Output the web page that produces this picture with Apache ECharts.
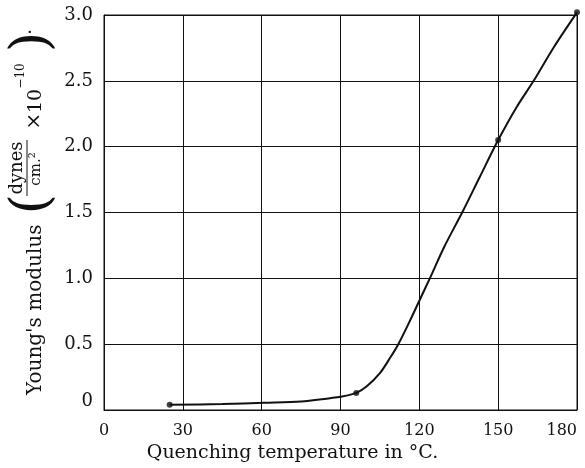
<!DOCTYPE html>
<html>
<head>
<meta charset="utf-8">
<script src="https://cdn.jsdelivr.net/npm/echarts@6/dist/echarts.min.js"></script>
<style>
  html, body { margin: 0; padding: 0; background: #fff; }
  #chart { width: 585px; height: 468px; }
</style>
</head>
<body>
<div id="chart"></div>
<script>
  // measured points (dots)
  var measuredTemp = [25, 96, 150, 180];
  var measuredModulus = [0.04, 0.13, 2.05, 3.02];

  // points
  var curveTemp = [25, 45, 61, 75, 86, 90, 96, 100, 105, 109, 112, 116, 120, 124, 129.5, 136.3, 143, 150, 157, 163.5, 171, 180];
  var curveModulus = [0.04, 0.045, 0.055, 0.065, 0.09, 0.1, 0.13, 0.18, 0.28, 0.40, 0.5, 0.66, 0.83, 1.0, 1.24, 1.5, 1.77, 2.05, 2.3, 2.5, 2.75, 3.02];

  var xTicks = [0, 30, 60, 90, 120, 150, 180];
  var yTicks = [0, 0.5, 1.0, 1.5, 2.0, 2.5, 3.0];

  var font = 'DejaVu Serif';
  var ink = '#111';

  var chart = echarts.init(document.getElementById('chart'));

  var pair = function (xs, ys) {
    var res = [];
    for (var i = 0; i < xs.length; i++) res.push([xs[i], ys[i]]);
    return res;
  };

  // y axis title, laid out in its own (rotated) frame
  var txt = function (x, y, s, size, va) {
    return { type: 'text', x: x, y: y, style: { text: s, font: size + 'px ' + font, fill: ink, align: 'center', verticalAlign: va || 'middle' } };
  };

  var option = {
    backgroundColor: '#fff',
    animation: false,
    grid: {
      left: 104, right: 8, top: 15, bottom: 58,
      show: true, borderColor: ink, borderWidth: 1
    },
    xAxis: {
      type: 'value',
      min: 0, max: 180, interval: 30,
      axisLine: { show: true, lineStyle: { color: ink, width: 1 } },
      axisTick: { show: false },
      splitLine: { show: true, lineStyle: { color: ink, width: 1 } },
      axisLabel: {
        margin: 13,
        color: ink, fontFamily: font, fontSize: 16,
        alignMaxLabel: 'right',
        formatter: function (v) { return xTicks.indexOf(v) >= 0 ? String(v) : ''; }
      },
      name: 'Quenching temperature in °C.',
      nameLocation: 'middle',
      nameGap: 30,
      nameTextStyle: { color: ink, fontFamily: font, fontSize: 19, padding: [0, 96, 0, 0] }
    },
    yAxis: {
      type: 'value',
      min: 0, max: 3, interval: 0.5,
      axisLine: { show: true, lineStyle: { color: ink, width: 1 } },
      axisTick: { show: false },
      splitLine: { show: true, lineStyle: { color: ink, width: 1 } },
      axisLabel: {
        margin: 11,
        color: ink, fontFamily: font, fontSize: 18,
        verticalAlignMinLabel: 'bottom',
        formatter: function (v) { return yTicks.indexOf(v) >= 0 ? (v === 0 ? '0' : v.toFixed(1)) : ''; }
      }
    },
    graphic: [{
      type: 'group',
      x: 36, y: 395,
      rotation: Math.PI / 2,
      children: [
        { type: 'text', x: 0, y: 0, style: { text: "Young's modulus", font: '20px ' + font, fill: ink, align: 'left', verticalAlign: 'middle' } },
        txt(191, -3, '(', 52),
        txt(227, -10, 'dynes', 18, 'bottom'),
        { type: 'line', shape: { x1: 199, y1: -9, x2: 255, y2: -9 }, style: { stroke: ink, lineWidth: 1 } },
        txt(226, -7, 'cm.²', 15, 'top'),
        txt(274, -1, '×', 20),
        txt(294, 0, '10', 19),
        txt(319, -15, '−10', 12),
        txt(353, -3, ')', 52),
        txt(363, -10, '.', 18)
      ]
    }],
    series: [{
      type: 'line',
      data: pair(curveTemp, curveModulus),
      smooth: 0.3,
      showSymbol: false,
      clip: false,
      lineStyle: { color: ink, width: 2 }
    }, {
      type: 'scatter',
      data: pair(measuredTemp, measuredModulus),
      symbolSize: 6,
      clip: false,
      itemStyle: { color: ink }
    }]
  };

  chart.setOption(option);
</script>
</body>
</html>
